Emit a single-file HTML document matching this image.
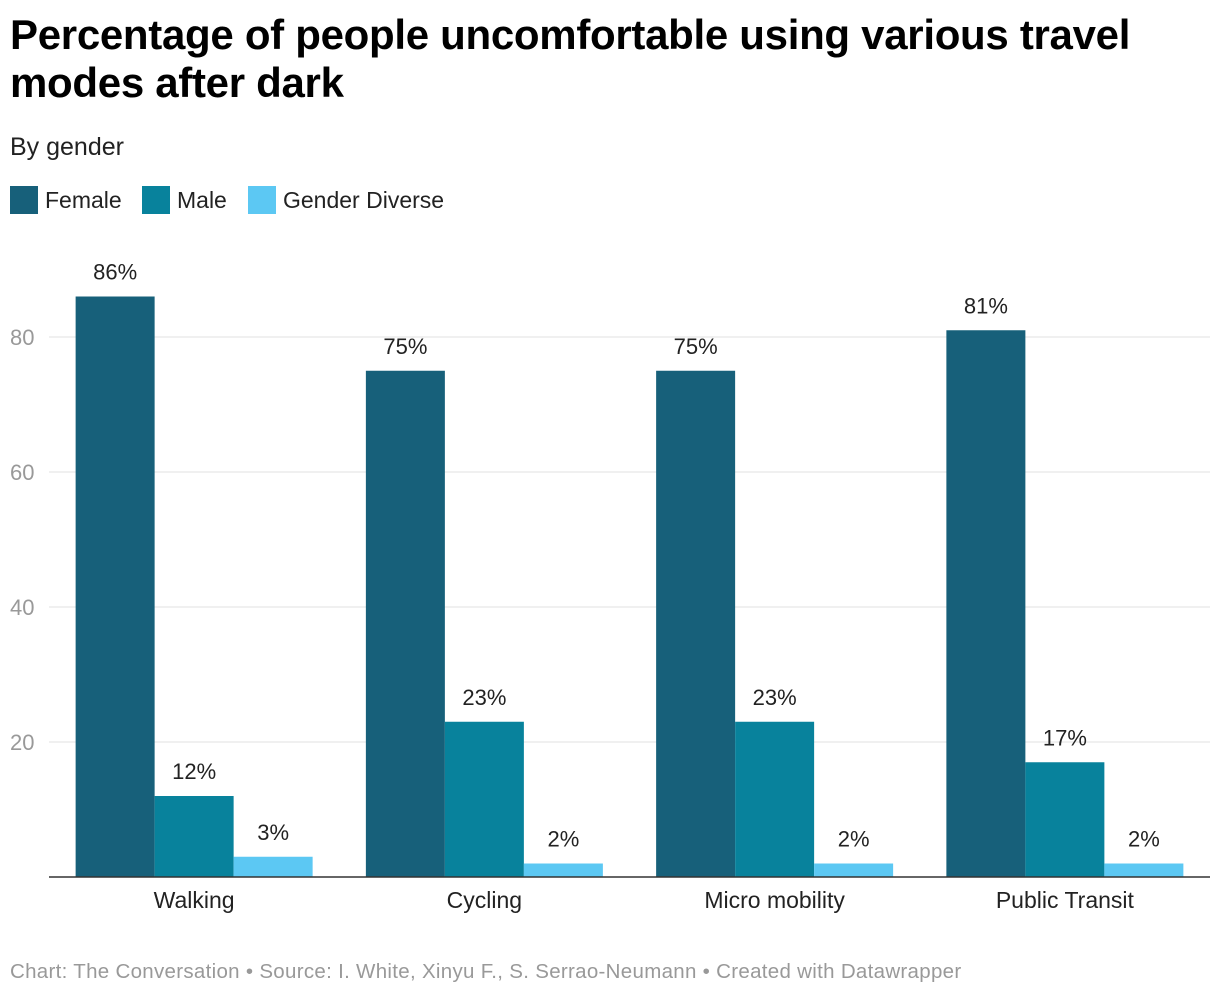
<!DOCTYPE html>
<html><head><meta charset="utf-8"><style>
body{margin:0;background:#fff;font-family:"Liberation Sans",Arial,sans-serif;width:1220px;height:998px;overflow:hidden;position:relative}
.t{position:absolute;left:10px;top:11px;font-size:42px;font-weight:bold;line-height:48px;color:#000;letter-spacing:-0.3px}
.s{position:absolute;left:10px;top:133px;font-size:25px;color:#222}
.lg{position:absolute;top:186px;font-size:23px;color:#222;display:flex;align-items:center}
.lg i{display:inline-block;width:28px;height:28px;margin-right:7px}
.f{position:absolute;left:10px;top:960px;font-size:20.5px;color:#999;letter-spacing:0.3px}
</style></head><body>
<div class="t">Percentage of people uncomfortable using various travel<br>modes after dark</div>
<div class="s">By gender</div>
<div class="lg" style="left:10px"><i style="background:#17607a"></i>Female</div>
<div class="lg" style="left:142px"><i style="background:#08829c"></i>Male</div>
<div class="lg" style="left:248px"><i style="background:#5cc8f3"></i>Gender Diverse</div>
<svg id="c" width="1220" height="998" style="position:absolute;left:0;top:0"></svg>
<div class="f">Chart: The Conversation • Source: I. White, Xinyu F., S. Serrao-Neumann • Created with Datawrapper</div>
<script>
const categories=["Walking","Cycling","Micro mobility","Public Transit"];
const female=[86,75,75,81];
const male=[12,23,23,17];
const diverse=[3,2,2,2];
const ticks=[20,40,60,80];
const series=[{n:"female",v:female,c:"#17607a"},{n:"male",v:male,c:"#08829c"},{n:"gender-diverse",v:diverse,c:"#5cc8f3"}];
const svg=document.getElementById('c');const NS="http://www.w3.org/2000/svg";
const y=v=>877-v*6.75;
const x0=49,x1=1210,gw=(x1-x0)/4,bw=79;
function mk(t,a,txt){const e=document.createElementNS(NS,t);for(const k in a)e.setAttribute(k,a[k]);if(txt!=null)e.textContent=txt;svg.appendChild(e);return e;}
ticks.forEach(t=>{
 const l=mk('line',{x1:x0,x2:x1,y1:y(t),y2:y(t),stroke:'#e0e0e0','stroke-width':1});
 
 
 const tx=mk('text',{x:10,y:y(t)+8,'font-size':22,fill:'#999','font-family':'Liberation Sans'},t);
 
 
});
categories.forEach((c,i)=>{
 const cx=x0+gw*(i+0.5);
 series.forEach((s,j)=>{
  const bx=cx-1.5*bw+j*bw;
  const r=mk('rect',{x:bx,y:y(s.v[i]),width:bw,height:877-y(s.v[i]),fill:s.c});
  
  
  const t=mk('text',{x:bx+bw/2,y:y(s.v[i])-17,'text-anchor':'middle','font-size':22,fill:'#222','font-family':'Liberation Sans'},s.v[i]+'%');
  
  
 });
 const cl=mk('text',{x:cx,y:908,'text-anchor':'middle','font-size':23,fill:'#222','font-family':'Liberation Sans'},c);
 
 
});
const ax=mk('line',{x1:x0,x2:x1,y1:877,y2:877,stroke:'#333','stroke-width':1.5});


</script>
</body></html>
